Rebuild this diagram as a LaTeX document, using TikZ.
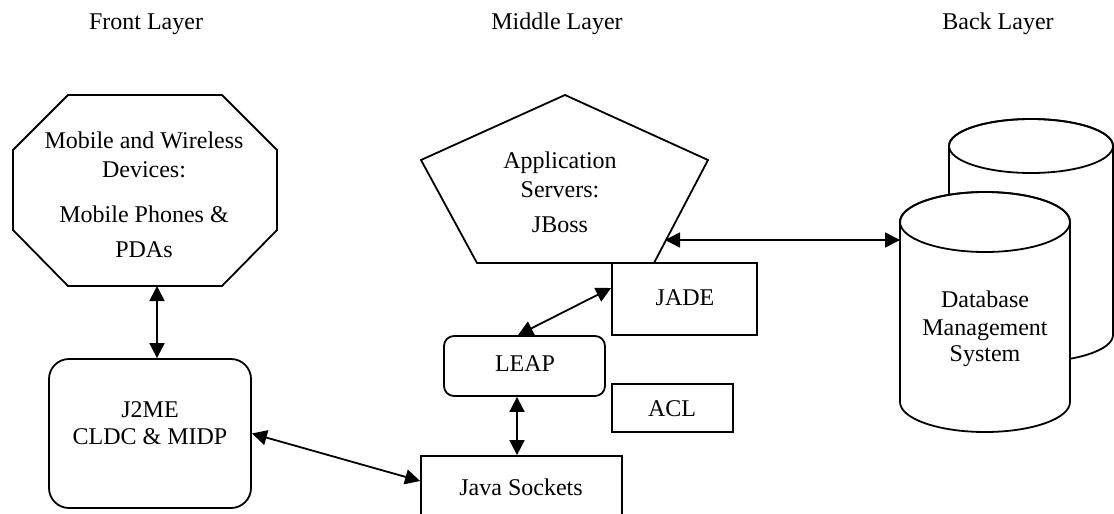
\documentclass[tikz,border=0pt]{standalone}
\usepackage{fontspec}
\setmainfont{Liberation Serif}
\usetikzlibrary{arrows.meta}
\begin{document}
\begin{tikzpicture}[x=1pt,y=-1pt,
  shp/.style={draw=black,line width=1.8pt,line join=miter},
  box/.style={shp,rectangle,inner sep=0pt,fill=white},
  txt/.style={anchor=base,inner sep=0pt,font=\fontsize{24}{28}\selectfont},
  arr/.style={line width=1.8pt,{Triangle[length=15pt,width=15pt]}-{Triangle[length=15pt,width=15pt]}}]
\useasboundingbox (0,0) rectangle (1114,514);
\clip (0,0) rectangle (1114,514);
% layer titles
\node[txt] (tf) at (146,29) {Front Layer};
\node[txt] (tm) at (557,29) {Middle Layer};
\node[txt] (tb) at (998,29) {Back Layer};
% octagon
\draw[shp] (68,95)--(222,95)--(277,150)--(277,230)--(222,286)--(68,286)--(13,230)--(13,150)--cycle;
\coordinate (octS) at (157,286);
\node[txt] (o1) at (144,148) {Mobile and Wireless};
\node[txt] (o2) at (144,177) {Devices:};
\node[txt] (o3) at (144,222) {Mobile Phones \&};
\node[txt] (o4) at (144,257) {PDAs};
% pentagon
\draw[shp] (565,95)--(708,160)--(654,263)--(477,263)--(421,160)--cycle;
\coordinate (pentE) at (665,240);
\node[txt] (p1) at (560,168) {Application};
\node[txt] (p2) at (560,197) {Servers:};
\node[txt] (p3) at (560,232) {JBoss};
% boxes
\node[box,minimum width=145pt,minimum height=72pt] (jade) at (684.5,299) {};
\node[txt] (jadeT) at (685,305) {JADE};
\node[box,rounded corners=10pt,minimum width=161pt,minimum height=60pt] (leap) at (524.5,366) {};
\node[txt] (leapT) at (525,371) {LEAP};
\node[box,minimum width=121pt,minimum height=48pt] (acl) at (672.5,408) {};
\node[txt] (aclT) at (672,416) {ACL};
\node[box,minimum width=201pt,minimum height=68pt] (js) at (521.5,490) {};
\node[txt] (jsT) at (521,495) {Java Sockets};
\node[box,rounded corners=20pt,minimum width=202pt,minimum height=149pt] (j2me) at (150,433.5) {};
\node[txt] (j1) at (150,417) {J2ME};
\node[txt] (j2) at (150,444) {CLDC \& MIDP};
% database cylinders
\draw[shp,fill=white] (949,146) -- (949,335) arc[start angle=180,end angle=360,x radius=82pt,y radius=27pt] -- (1113,146) arc[start angle=0,end angle=180,x radius=82pt,y radius=27pt] -- cycle;
\draw[shp] (1031,146) ellipse[x radius=82pt,y radius=27pt];
\draw[shp,fill=white] (900,222) -- (900,402) arc[start angle=180,end angle=360,x radius=85pt,y radius=30pt] -- (1070,222) arc[start angle=0,end angle=180,x radius=85pt,y radius=30pt] -- cycle;
\draw[shp] (985,222) ellipse[x radius=85pt,y radius=30pt];
\coordinate (dbW) at (900,240);
\node[txt] (d1) at (985,307) {Database};
\node[txt] (d2) at (985,335) {Management};
\node[txt] (d3) at (985,361) {System};
% connectors
\draw[arr] (octS) -- (octS |- j2me.north);
\draw[arr] (j2me.east) -- ([yshift=9pt]js.west);
\draw[arr] ([xshift=-7.5pt]leap.south) -- ([xshift=-7.5pt]leap.south |- js.north);
\draw[arr] ([yshift=11pt]jade.west) -- ([xshift=-6.5pt]leap.north);
\draw[arr] (pentE) -- (dbW);
\end{tikzpicture}
\end{document}
